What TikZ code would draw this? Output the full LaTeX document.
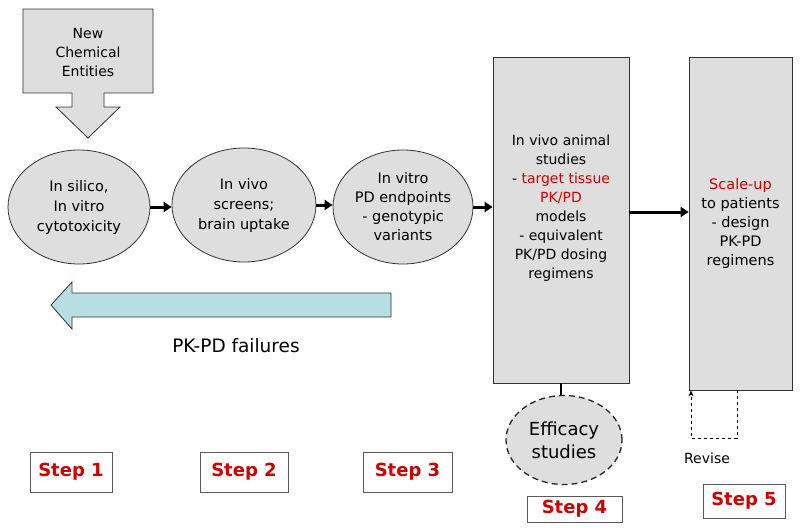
\documentclass[tikz,border=0pt]{standalone}
\usepackage{fontspec}
\setmainfont{DejaVu Sans}
\usetikzlibrary{arrows.meta,shapes.geometric}
\definecolor{boxgray}{RGB}{222,222,222}
\definecolor{edgegray}{RGB}{50,50,50}
\definecolor{cyanfill}{RGB}{183,222,226}
\definecolor{stepred}{RGB}{204,0,0}
\begin{document}
\begin{tikzpicture}[x=1pt,y=-1pt,line width=0.8pt,
  stage/.style={ellipse,draw=edgegray,fill=boxgray,inner sep=0pt,align=center,
    font=\fontsize{14.5}{20}\selectfont,minimum width=142pt,minimum height=114pt},
  tall/.style={rectangle,draw=edgegray,fill=boxgray,inner sep=0pt},
  flow/.style={-{Triangle[length=8pt,width=10pt]},line width=3pt},
  steplabel/.style={draw=gray!70!black,fill=white,text=stepred,
    font=\fontsize{18}{22}\selectfont\bfseries,inner sep=0pt,minimum height=40pt},
]
\useasboundingbox[fill=white] (0,0) rectangle (800,530);

% New chemical entities callout
\draw[draw=edgegray,fill=boxgray] (23,9) -- (153,9) -- (153,93) -- (104,93) -- (104,107)
  -- (120,107) -- (88,138) -- (56,107) -- (72,107) -- (72,93) -- (23,93) -- cycle;
\node[align=center,font=\fontsize{14}{19}\selectfont] (nce) at (88,52) {New\\Chemical\\Entities};

% stages
\node[stage] (e1) at (79,207) {In silico,\\In vitro\\cytotoxicity};
\node[stage,minimum width=144pt] (e2) at (244,205) {In vivo\\screens;\\brain uptake};
\node[stage,minimum width=140pt,font=\fontsize{14.5}{19}\selectfont] (e3) at (403,207)
  {In vitro\\PD endpoints\\- genotypic\\variants};

\node[tall,minimum width=136pt,minimum height=326pt] (b4) at (561,220) {};
\node[align=center,font=\fontsize{14}{19}\selectfont] (b4t) at (561,208)
  {In vivo animal\\studies\\- \textcolor{stepred}{target tissue}\\\textcolor{stepred}{PK/PD}\\models\\- equivalent\\PK/PD dosing\\regimens};

\node[tall,minimum width=103pt,minimum height=333pt,align=center,
  font=\fontsize{14.5}{19}\selectfont] (b5) at (740.5,223.5)
  {\textcolor{stepred}{Scale-up}\\to patients\\- design\\PK-PD\\regimens};

% flow arrows
\draw[flow] (e1.east) -- (e1.east -| e2.west);
\draw[flow] (e2.east) -- (e2.east -| e3.west);
\draw[flow] (e3.east) -- (e3.east -| b4.west);
\draw[flow] ([yshift=8pt]b4.east) -- ([yshift=11.5pt]b5.west);

% efficacy
\node[ellipse,draw=black!85,dash pattern=on 6pt off 4pt,line width=1.3pt,fill=boxgray,
  minimum width=116pt,minimum height=89pt,inner sep=0pt,align=center,
  font=\fontsize{18}{23}\selectfont] (eff) at (564,440) {Efficacy\\studies};
\draw[line width=2.2pt] (b4.south) -- (b4.south |- eff.north);

% revise loop
\draw[dashed,line width=0.6pt,-{Stealth[length=6pt,width=5pt]}] ([xshift=-3.5pt]b5.south) -- ++(0,48)
  -| ([xshift=-49.5pt]b5.south);
\node[font=\fontsize{14}{16}\selectfont] (rev) at (707,458) {Revise};

% failures arrow
\draw[draw=edgegray,fill=cyanfill] (391,293) -- (72,293) -- (72,282) -- (51,305)
  -- (72,329) -- (72,317) -- (391,317) -- cycle;
\node[font=\fontsize{18.5}{22}\selectfont] (fail) at (236,346) {PK-PD failures};

% steps
\node[steplabel,minimum width=82pt] (s1) at (71,472) {Step 1};
\node[steplabel,minimum width=88pt] (s2) at (244,472) {Step 2};
\node[steplabel,minimum width=89pt] (s3) at (407.5,472) {Step 3};
\node[steplabel,minimum width=95pt,minimum height=26pt] (s4) at (574.5,509) {Step 4};
\node[steplabel,minimum width=82pt,minimum height=34pt] (s5) at (744,501) {Step 5};
\end{tikzpicture}
\end{document}
